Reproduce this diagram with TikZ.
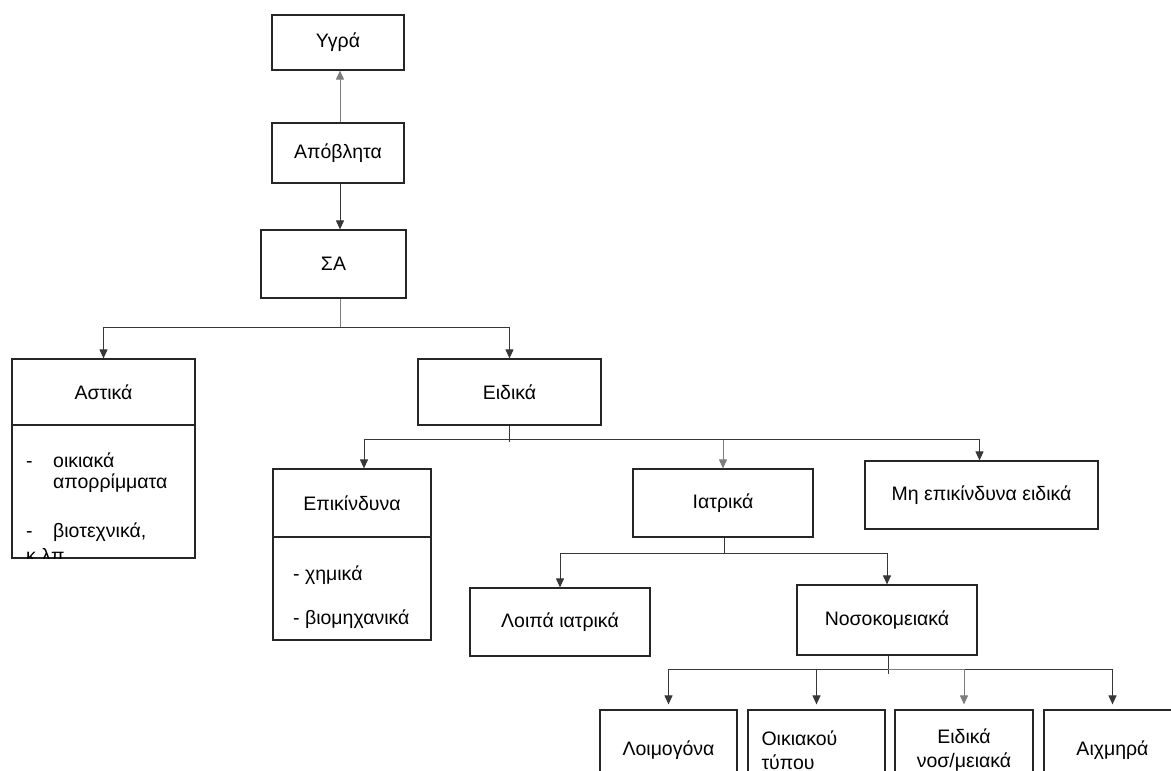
\documentclass[tikz,border=0pt]{standalone}
\usepackage{fontspec}
\setmainfont{Liberation Sans}
\usetikzlibrary{arrows.meta,calc}
\definecolor{linegray}{RGB}{55,55,55}
\definecolor{lightline}{RGB}{125,125,125}

\begin{document}
\begin{tikzpicture}[x=1pt,y=-1pt,font=\fontsize{19.5}{24}\selectfont,>={Triangle[length=9pt,width=8pt]},
  box/.style={draw=black!85,line width=1.2pt,inner sep=0pt,align=center},
  link/.style={draw=linegray,line width=1pt},
  arr/.style={link,->},
  listtxt/.style={anchor=base west,inner sep=0pt}]
  \clip (0,0) rectangle (1171,771);
  \fill[white] (0,0) rectangle (1171,771);
  % top chain
  \node[box,minimum width=132,minimum height=55] (ygra) at (338,42.5) {Υγρά};
  \node[box,minimum width=132,minimum height=60] (apob) at (338,153) {Απόβλητα};
  \node[box,minimum width=145,minimum height=68] (sa) at (333.5,264) {ΣΑ};
  \draw[arr,draw=lightline] (apob.north -| 340,0) -- (ygra.south -| 340,0);
  \draw[arr] (apob.south -| 340,0) -- (sa.north -| 340,0);
  % first level
  \node[box,minimum width=183,minimum height=66] (astika) at (103.5,392) {Αστικά};
  \node[box,minimum width=183,minimum height=133] (astlist) at (103.5,491.5) {};
  \node[box,minimum width=183,minimum height=66] (eidika) at (509.5,392) {Ειδικά};
  \coordinate (bar1) at (340,327);
  \draw[link,draw=lightline] (sa.south -| bar1) -- (bar1);
  \draw[arr] (bar1) -| (astika.north);
  \draw[arr] (bar1) -| (eidika.north);
  \begin{scope}
    \clip (astlist.south west) rectangle (astlist.north east);
    \node[listtxt] (ast1) at (26,467) {\makebox[27pt][l]{-}οικιακά};
    \node[listtxt] (ast2) at (53,488) {απορρίμματα};
    \node[listtxt] (ast3) at (26,537) {\makebox[27pt][l]{-}βιοτεχνικά,};
    \node[listtxt] (ast4) at (26,562) {κ.λπ};
  \end{scope}
  % second level
  \node[box,minimum width=158,minimum height=68] (epik) at (352,503) {Επικίνδυνα};
  \node[box,minimum width=158,minimum height=103] (epiklist) at (352,588.5) {};
  \node[listtxt] (epik1) at (293,580) {- χημικά};
  \node[listtxt] (epik2) at (293,624) {- βιομηχανικά};
  \node[box,minimum width=180,minimum height=68] (iatr) at (723,503) {Ιατρικά};
  \node[box,minimum width=233,minimum height=68] (mhepik) at (981.5,495) {Μη επικίνδυνα ειδικά};
  \coordinate (bar2) at (509,439);
  \coordinate (stem2) at (509,442);
  \draw[link] (eidika.south -| stem2) -- (stem2);
  \draw[arr] (bar2) -| ([xshift=12pt]epik.north);
  \draw[arr,draw=lightline] (bar2) -| (iatr.north);
  \draw[arr] (bar2) -| ([xshift=-2pt]mhepik.north);
  % third level
  \node[box,minimum width=180,minimum height=68] (loipa) at (560,622) {Λοιπά ιατρικά};
  \node[box,minimum width=180,minimum height=70] (nosok) at (887,620) {Νοσοκομειακά};
  \coordinate (bar3) at (724,553);
  \draw[link] (iatr.south -| bar3) -- (bar3);
  \draw[arr] (bar3) -| (loipa.north);
  \draw[arr] (bar3) -| (nosok.north);
  % fourth level
  \node[box,minimum width=137,minimum height=80] (loim) at (668.5,750) {Λοιμογόνα};
  \node[box,minimum width=137,minimum height=80,align=left,text width=110] (oikiak) at (816.5,750) {Οικιακού\\τύπου};
  \node[box,minimum width=138,minimum height=80] (eidnos) at (964,750) {Ειδικά\\νοσ/μειακά};
  \node[box,minimum width=137,minimum height=80] (aixm) at (1112.5,750) {Αιχμηρά};
  \coordinate (bar4) at (888,669);
  \coordinate (stem4) at (888,674);
  \draw[link] (nosok.south -| stem4) -- (stem4);
  \foreach \leaf in {loim,oikiak,aixm}
    \draw[arr,shorten >=5pt] (bar4) -| (\leaf.north);
  \draw[arr,draw=lightline,shorten >=5pt] (bar4) -| (eidnos.north);
\end{tikzpicture}
\end{document}
